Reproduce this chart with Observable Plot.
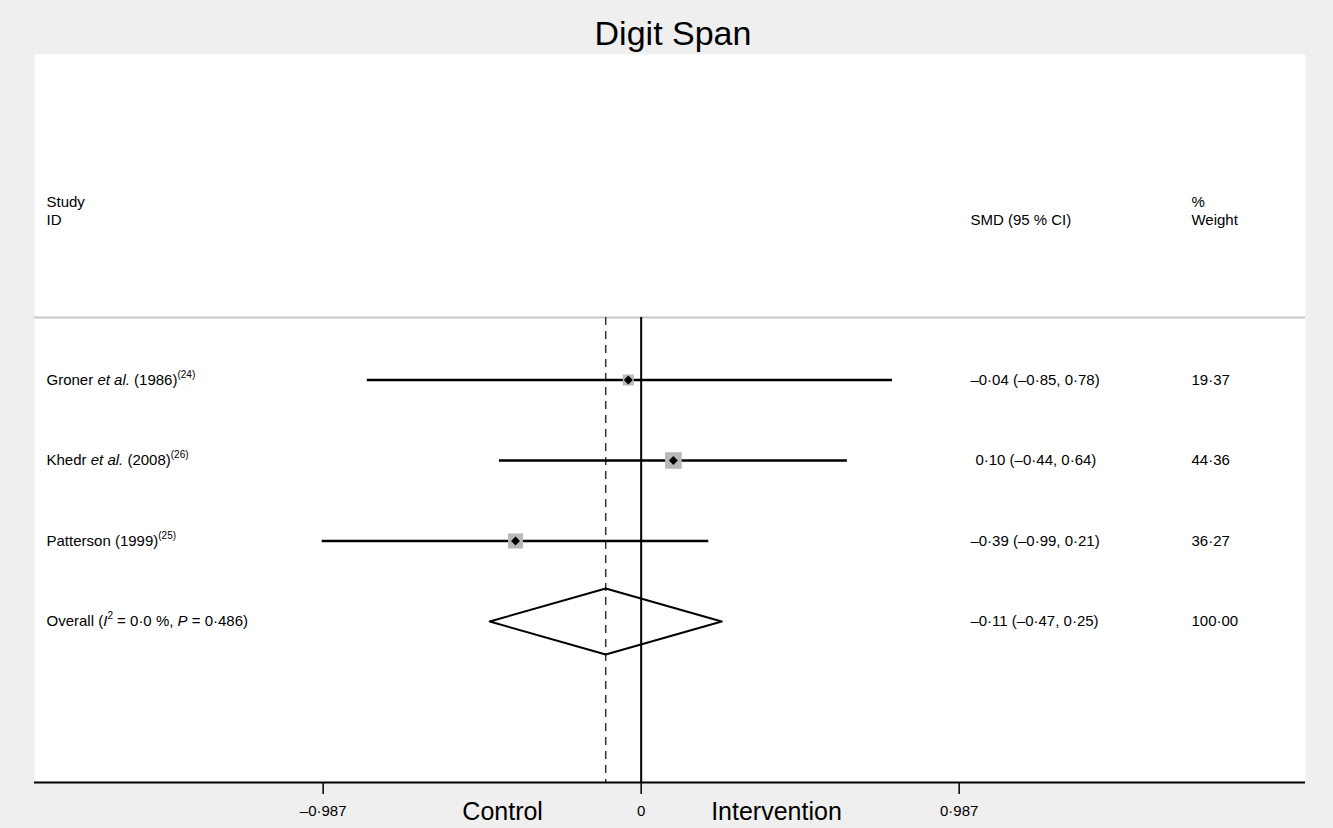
<!DOCTYPE html>
<html>
<head>
<meta charset="utf-8">
<script src="https://cdn.jsdelivr.net/npm/d3@7"></script>
<script src="https://cdn.jsdelivr.net/npm/@observablehq/plot@0.6"></script>
<style>
  html, body { margin: 0; padding: 0; background: #efefef; width: 1333px; height: 828px; overflow: hidden; }
  #title { position: relative; height: 54px; width: 1333px; }
  #title span { position: absolute; top: 16px; left: 673px; transform: translateX(-50%);
    font-family: "Liberation Sans", Arial, Helvetica, sans-serif; font-size: 34px; line-height: 34px; color: #000; white-space: nowrap; }
  #chart svg { display: block; }
</style>
</head>
<body>
<div id="title"><span>Digit Span</span></div>
<div id="chart"></div>
<script>
// ---- data ----
const studies = ["Groner", "Khedr", "Patterson"];
const etAl = [true, true, false];
const years = ["1986", "2008", "1999"];
const refs = ["24", "26", "25"];
const smd = [-0.04, 0.10, -0.39];
const lower = [-0.85, -0.44, -0.99];
const upper = [0.78, 0.64, 0.21];
const weights = [19.37, 44.36, 36.27];
const overallSMD = -0.11;
const overallLower = -0.47;
const overallUpper = 0.25;
const overallWeight = 100.00;
const overallI2 = "0\u00B70";
const overallP = "0\u00B7486";
const tickValues = [-0.987, 0, 0.987];
const sideLabels = ["Control", "Intervention"];
const headers = { study: ["Study", "ID"], smd: "SMD (95 % CI)", weight: ["%", "Weight"] };

// ---- layout constants ----
const FONT = '"Liberation Sans", Arial, Helvetica, sans-serif';
const COL_LABEL = -1.8457, COL_SMD = 1.022, COL_WEIGHT = 1.708;
const HEAD_Y1 = -2.206, HEAD_Y2 = -1.979, HEAD_LINE = -0.776, AXIS_Y = 5;

function fmt(v, d = 2) {
  const s = Math.abs(v).toFixed(d).replace(".", "\u00B7");
  return v < 0 ? "\u2013" + s : "\u2004" + s;
}
function fmtW(v) { return v.toFixed(2).replace(".", "\u00B7"); }
function tickFmt(v) { return v === 0 ? "0" : (v < 0 ? "\u2013" : "") + Math.abs(v).toFixed(3).replace(".", "\u00B7"); }

const segments = studies.map((s, i) => [
  {t: s + " "},
  ...(etAl[i] ? [{t: "et al.", it: true}, {t: " "}] : []),
  {t: "(" + years[i] + ")"},
  {t: "(" + refs[i] + ")", sup: true}
]);
segments.push([
  {t: "Overall ("}, {t: "I", it: true}, {t: "2", sup: true},
  {t: " = " + overallI2 + " %, "}, {t: "P", it: true}, {t: " = " + overallP + ")"}
]);

const rows = studies.map((s, i) => ({
  i, est: smd[i], lo: lower[i], hi: upper[i], w: weights[i],
  label: segments[i].map(d => d.t).join(""),
  ci: fmt(smd[i]) + " (" + fmt(lower[i]).trim() + ", " + fmt(upper[i]).trim() + ")",
  wt: fmtW(weights[i])
}));
const overallRow = {
  i: studies.length, est: overallSMD, lo: overallLower, hi: overallUpper, w: overallWeight,
  label: segments[studies.length].map(d => d.t).join(""),
  ci: fmt(overallSMD) + " (" + fmt(overallLower).trim() + ", " + fmt(overallUpper).trim() + ")",
  wt: fmtW(overallWeight)
};
const allRows = [...rows, overallRow];
const DH = 0.41;
const diamond = [
  {x: overallRow.lo, y: overallRow.i},
  {x: overallRow.est, y: overallRow.i - DH},
  {x: overallRow.hi, y: overallRow.i},
  {x: overallRow.est, y: overallRow.i + DH},
  {x: overallRow.lo, y: overallRow.i}
];

const plot = Plot.plot({
  width: 1333, height: 774,
  marginTop: 0, marginBottom: 46, marginLeft: 34, marginRight: 28,
  style: {fontFamily: FONT, fontSize: "15px", background: "transparent", color: "#000"},
  x: {domain: [-1.883, 2.062]},
  y: {domain: [-4.043, AXIS_Y], reverse: true, axis: null},
  r: {type: "identity"},
  marks: [
    Plot.frame({fill: "white", stroke: null}),
    Plot.ruleY([HEAD_LINE], {stroke: "#c8c8c8", strokeWidth: 2}),
    Plot.ruleX([0], {y1: HEAD_LINE, y2: AXIS_Y, stroke: "#000", strokeWidth: 2}),
    Plot.ruleX([overallSMD], {y1: HEAD_LINE, y2: AXIS_Y, stroke: "#333", strokeWidth: 1.5, strokeDasharray: "8,6"}),
    Plot.ruleY(rows, {y: "i", x1: "lo", x2: "hi", stroke: "#000", strokeWidth: 2.5}),
    Plot.dot(rows, {x: "est", y: "i", symbol: "square", r: d => 2.5 * Math.sqrt(d.w) / Math.sqrt(Math.PI), fill: "#b8b8b8", stroke: null}),
    Plot.dot(rows, {x: "est", y: "i", symbol: "diamond2", r: 4, fill: "#000", stroke: null}),
    Plot.line(diamond, {x: "x", y: "y", stroke: "#000", strokeWidth: 2}),
    // headers
    Plot.text(headers.study, {x: COL_LABEL, y: (d, i) => i === 0 ? HEAD_Y1 : HEAD_Y2, text: d => d, textAnchor: "start", fontSize: 15}),
    Plot.text([headers.smd], {x: COL_SMD, y: HEAD_Y2, text: d => d, textAnchor: "start", fontSize: 15}),
    Plot.text(headers.weight, {x: COL_WEIGHT, y: (d, i) => i === 0 ? HEAD_Y1 : HEAD_Y2, text: d => d, textAnchor: "start", fontSize: 15}),
    // row texts
    Plot.text(allRows, {x: COL_LABEL, y: "i", text: "label", textAnchor: "start", fontSize: 15}),
    Plot.text(allRows, {x: COL_SMD, y: "i", text: "ci", textAnchor: "start", fontSize: 15}),
    Plot.text(allRows, {x: COL_WEIGHT, y: "i", text: "wt", textAnchor: "start", fontSize: 15}),
    // axis
    Plot.ruleY([AXIS_Y], {stroke: "#000", strokeWidth: 2.2}),
    Plot.axisX(tickValues, {tickFormat: tickFmt, tickSize: 12, tickPadding: 11, fontSize: 15, strokeWidth: 1.5, label: null}),
    Plot.text(sideLabels, {x: (d, i) => i === 0 ? -0.43 : 0.42, y: AXIS_Y, dy: 29, text: d => d, fontSize: 25})
  ]
});
document.getElementById("chart").appendChild(plot);

// rich text (italics and superscripts) for the row labels
const labelIndex = new Map(allRows.map((r, i) => [r.label, i]));
d3.select(plot).selectAll("text").each(function() {
  const i = labelIndex.get(this.textContent);
  if (i === undefined) return;
  const segs = segments[i];
  const t = d3.select(this).text(null).style("white-space", "pre");
  let raised = false;
  segs.forEach(s => {
    const ts = t.append("tspan").text(s.t);
    if (s.it) ts.attr("font-style", "italic");
    if (s.sup) { ts.attr("font-size", 10).attr("dy", -7); raised = true; }
    else if (raised) { ts.attr("dy", 7); raised = false; }
  });
});
</script>
</body>
</html>
